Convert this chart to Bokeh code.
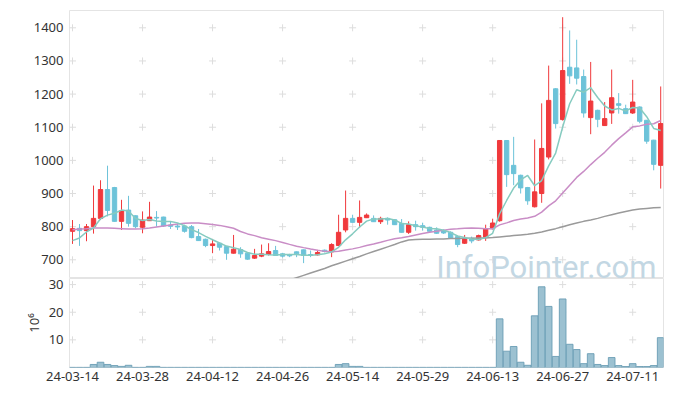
import math
from bokeh.plotting import figure
from bokeh.layouts import column
from bokeh.models import ColumnDataSource, FixedTicker, Range1d
from bokeh.core.properties import value
from bokeh.embed import file_html
from bokeh.resources import INLINE

# ---------------- data ----------------
dates = [
    "24-03-14", "24-03-15", "24-03-18", "24-03-19", "24-03-20", "24-03-21", "24-03-22", "24-03-25", "24-03-26", "24-03-27",
    "24-03-28", "24-03-29", "24-04-01", "24-04-02", "24-04-03", "24-04-04", "24-04-05", "24-04-08", "24-04-09", "24-04-11",
    "24-04-12", "24-04-15", "24-04-16", "24-04-17", "24-04-18", "24-04-19", "24-04-22", "24-04-23", "24-04-24", "24-04-25",
    "24-04-26", "24-04-29", "24-04-30", "24-05-02", "24-05-03", "24-05-07", "24-05-08", "24-05-09", "24-05-10", "24-05-13",
    "24-05-14", "24-05-16", "24-05-17", "24-05-20", "24-05-21", "24-05-22", "24-05-23", "24-05-24", "24-05-27", "24-05-28",
    "24-05-29", "24-05-30", "24-05-31", "24-06-03", "24-06-04", "24-06-05", "24-06-07", "24-06-10", "24-06-11", "24-06-12",
    "24-06-13", "24-06-14", "24-06-17", "24-06-18", "24-06-19", "24-06-20", "24-06-21", "24-06-24", "24-06-25", "24-06-26",
    "24-06-27", "24-06-28", "24-07-01", "24-07-02", "24-07-03", "24-07-04", "24-07-05", "24-07-08", "24-07-09", "24-07-10",
    "24-07-11", "24-07-12", "24-07-15", "24-07-16", "24-07-17",
]

open_ = [
    786, 795, 788, 800, 825, 912, 918, 816, 850, 833,
    798, 818, 828, 829, 805, 802, 802, 800, 770, 762,
    743, 750, 740, 720, 731, 720, 705, 711, 716, 728,
    718, 715, 724, 730, 716, 715, 729, 724, 743, 790,
    825, 813, 827, 825, 815, 825, 821, 810, 783, 806,
    803, 798, 790, 788, 783, 770, 750, 765, 760, 768,
    794, 818, 1060, 985, 955, 918, 860, 900, 1010, 1216,
    1123, 1281, 1279, 1253, 1129, 1151, 1105, 1143, 1171, 1156,
    1143, 1161, 1121, 1061, 985,
]
high = [
    820, 808, 808, 924, 940, 984, 920, 881, 893, 834,
    846, 875, 847, 830, 816, 810, 806, 805, 793, 764,
    763, 752, 741, 775, 738, 722, 733, 746, 750, 742,
    721, 718, 725, 731, 728, 730, 731, 750, 836, 909,
    836, 879, 840, 834, 830, 828, 822, 823, 816, 818,
    812, 800, 798, 792, 786, 773, 775, 770, 776, 806,
    824, 1060, 1060, 1071, 957, 920, 1063, 1172, 1286, 1218,
    1432, 1392, 1364, 1274, 1297, 1153, 1176, 1274, 1203, 1168,
    1243, 1163, 1122, 1062, 1223,
]
low = [
    748, 742, 756, 779, 820, 831, 815, 790, 800, 795,
    780, 817, 800, 799, 793, 790, 782, 765, 757, 738,
    720, 728, 700, 719, 706, 700, 703, 708, 713, 712,
    707, 708, 708, 690, 708, 713, 722, 708, 742, 783,
    812, 797, 826, 814, 808, 806, 805, 782, 778, 788,
    788, 785, 778, 778, 764, 738, 748, 750, 758, 757,
    792, 815, 920, 925, 900, 866, 858, 872, 1003, 1096,
    1120, 1231, 1229, 1129, 1079, 1100, 1104, 1110, 1141, 1140,
    1140, 1112, 1050, 970, 915,
]
close = [
    794, 788, 800, 825, 912, 849, 816, 848, 810, 800,
    820, 829, 826, 802, 801, 799, 786, 767, 758, 743,
    748, 738, 720, 732, 718, 702, 713, 718, 725, 713,
    711, 712, 718, 713, 713, 722, 725, 746, 783, 825,
    813, 828, 835, 815, 825, 820, 806, 783, 806, 800,
    798, 786, 780, 781, 766, 746, 765, 757, 773, 794,
    811, 1060, 957, 960, 917, 878, 905, 1036, 1181, 1111,
    1271, 1255, 1248, 1143, 1179, 1124, 1126, 1189, 1166, 1141,
    1176, 1118, 1058, 988, 1111,
]
# volume in millions of shares
volume = [
    0.05, 0.05, 0.05, 1.1, 1.9, 1.1, 0.7, 0.4, 0.8, 0.05,
    0.05, 0.4, 0.4, 0.05, 0.05, 0.05, 0.05, 0.05, 0.05, 0.05,
    0.05, 0.05, 0.05, 0.05, 0.05, 0.05, 0.05, 0.05, 0.05, 0.05,
    0.05, 0.05, 0.05, 0.05, 0.05, 0.05, 0.05, 0.05, 1.1, 1.4,
    0.4, 0.4, 0.05, 0.05, 0.05, 0.05, 0.05, 0.05, 0.05, 0.05,
    0.05, 0.05, 0.05, 0.05, 0.05, 0.05, 0.05, 0.05, 0.05, 0.05,
    0.05, 17.6, 5.9, 7.6, 1.9, 0.8, 18.7, 29.2, 22.1, 4.0,
    24.8, 8.4, 6.5, 1.4, 5.0, 1.1, 0.7, 3.6, 0.7, 0.35,
    1.4, 0.35, 0.35, 0.7, 10.8,
]
# moving-average values before enough in-window closes exist
ma5_head = [758, 766, 784, 796]
ma20_head = [791, 793, 794, 796, 796, 796, 795, 794, 793, 793,
             794, 796, 799, 802, 805, 808, 810, 811, 811]
# long moving average (grey); starts below the visible range
ma_long = [float("nan")] * 30 + [
    632, 639, 646, 653, 660, 667, 674, 682, 689, 696,
    703, 710, 718, 725, 732, 739, 746, 754, 760, 761,
    762, 762, 763, 763, 764, 764, 765, 765, 766, 766,
    767, 769, 771, 773, 775, 777, 780, 784, 789, 794,
    800, 806, 811, 816, 820, 825, 831, 836, 841, 846,
    850, 853, 855, 857, 858,
]
price_ticks = [700, 800, 900, 1000, 1100, 1200, 1300, 1400]
volume_ticks = [10, 20, 30]
date_tick_idx = [0, 10, 20, 30, 40, 50, 60, 70, 80]
watermark = "InfoPointer.com"

# ---------------- derived ----------------
n = len(dates)
xs = list(range(n))
ma5 = ma5_head + [sum(close[i - 4:i + 1]) / 5 for i in range(4, n)]
ma20 = ma20_head + [sum(close[i - 19:i + 1]) / 20 for i in range(19, n)]

UP = "#f0393c"
DOWN = "#6cc3d9"
colors = [UP if c > o else DOWN for o, c in zip(open_, close)]

src = ColumnDataSource(dict(
    x=xs,
    top=[max(o, c) for o, c in zip(open_, close)],
    bottom=[min(o, c) for o, c in zip(open_, close)],
    high=high, low=low, color=colors, vol=volume,
    ma5=ma5, ma20=ma20, ma_long=ma_long,
))

FONT = "Noto Sans"
LABEL_COLOR = "#333333"
GRID_COLOR = "#dddddd"
OUTLINE = "#e4e4e4"

x_range = Range1d(-0.43, 84.4)


def style_axes(fig):
    for ax in fig.axis:
        ax.axis_line_color = None
        ax.major_tick_line_color = None
        ax.minor_tick_line_color = None
        ax.major_tick_out = 0
        ax.major_tick_in = 0
        ax.major_label_standoff = 6
        ax.major_label_text_font = FONT
        ax.major_label_text_font_size = "13px"
        ax.major_label_text_color = LABEL_COLOR


# ---------------- price chart ----------------
p = figure(width=665, height=278, x_range=x_range, y_range=Range1d(643.6, 1452.2),
           output_backend="svg", toolbar_location=None, x_axis_location=None,
           min_border_left=69, min_border_right=2, min_border_top=10, min_border_bottom=0)
p.grid.visible = False
p.outline_line_color = OUTLINE
p.background_fill_color = "white"
p.border_fill_color = "white"
p.yaxis.ticker = FixedTicker(ticks=price_ticks)
style_axes(p)

gx = [t for t in date_tick_idx for _ in price_ticks]
gy = [v for _ in date_tick_idx for v in price_ticks]
p.scatter(gx, gy, marker="cross", size=7, line_color=GRID_COLOR, line_width=1)

# watermark (drawn beneath the candles)
p.text(x=[83.39], y=[677.5], text=[watermark], text_align="right",
       text_baseline="alphabetic", text_font=value("Roboto"), text_font_size="31px",
       text_color="#c3d7e3")

p.segment(x0="x", y0="high", x1="x", y1="low", line_color="color", line_width=1, source=src)
p.vbar(x="x", width=0.62, top="top", bottom="bottom", fill_color="color",
       line_color="color", line_width=1, source=src)

p.line("x", "ma_long", line_color="#9a9a9a", line_width=1.5, source=src)
p.line("x", "ma20", line_color="#c98dc6", line_width=1.5, source=src)
p.line("x", "ma5", line_color="#86cbc0", line_width=1.5, source=src)

# ---------------- volume chart ----------------
v = figure(width=665, height=115, x_range=x_range, y_range=Range1d(0, 32.2),
           output_backend="svg", toolbar_location=None,
           min_border_left=69, min_border_right=2, min_border_top=4, min_border_bottom=22)
v.margin = (-4, 0, 0, 0)
v.grid.visible = False
v.outline_line_color = OUTLINE
v.background_fill_color = "white"
v.border_fill_color = None
v.yaxis.ticker = FixedTicker(ticks=volume_ticks)
v.xaxis.ticker = FixedTicker(ticks=date_tick_idx)
v.xaxis.major_label_overrides = {i: dates[i] for i in date_tick_idx}
style_axes(v)
v.xaxis.major_label_standoff = 4
v.yaxis.axis_label = "10\u2076"
v.yaxis.axis_label_text_font = FONT
v.yaxis.axis_label_text_font_size = "13px"
v.yaxis.axis_label_text_font_style = "normal"
v.yaxis.axis_label_text_color = LABEL_COLOR
v.yaxis.axis_label_standoff = 3

vgx = [t for t in date_tick_idx for _ in volume_ticks]
vgy = [q for _ in date_tick_idx for q in volume_ticks]
v.scatter(vgx, vgy, marker="cross", size=7, line_color=GRID_COLOR, line_width=1)

v.vbar(x="x", width=0.95, top="vol", bottom=0, fill_color="#9cc1d1", fill_alpha=1.0,
       line_color="#6a9db5", line_alpha=0.9, line_width=1, source=src)

layout = column(p, v)
open("out.html", "w").write(file_html(layout, INLINE))
